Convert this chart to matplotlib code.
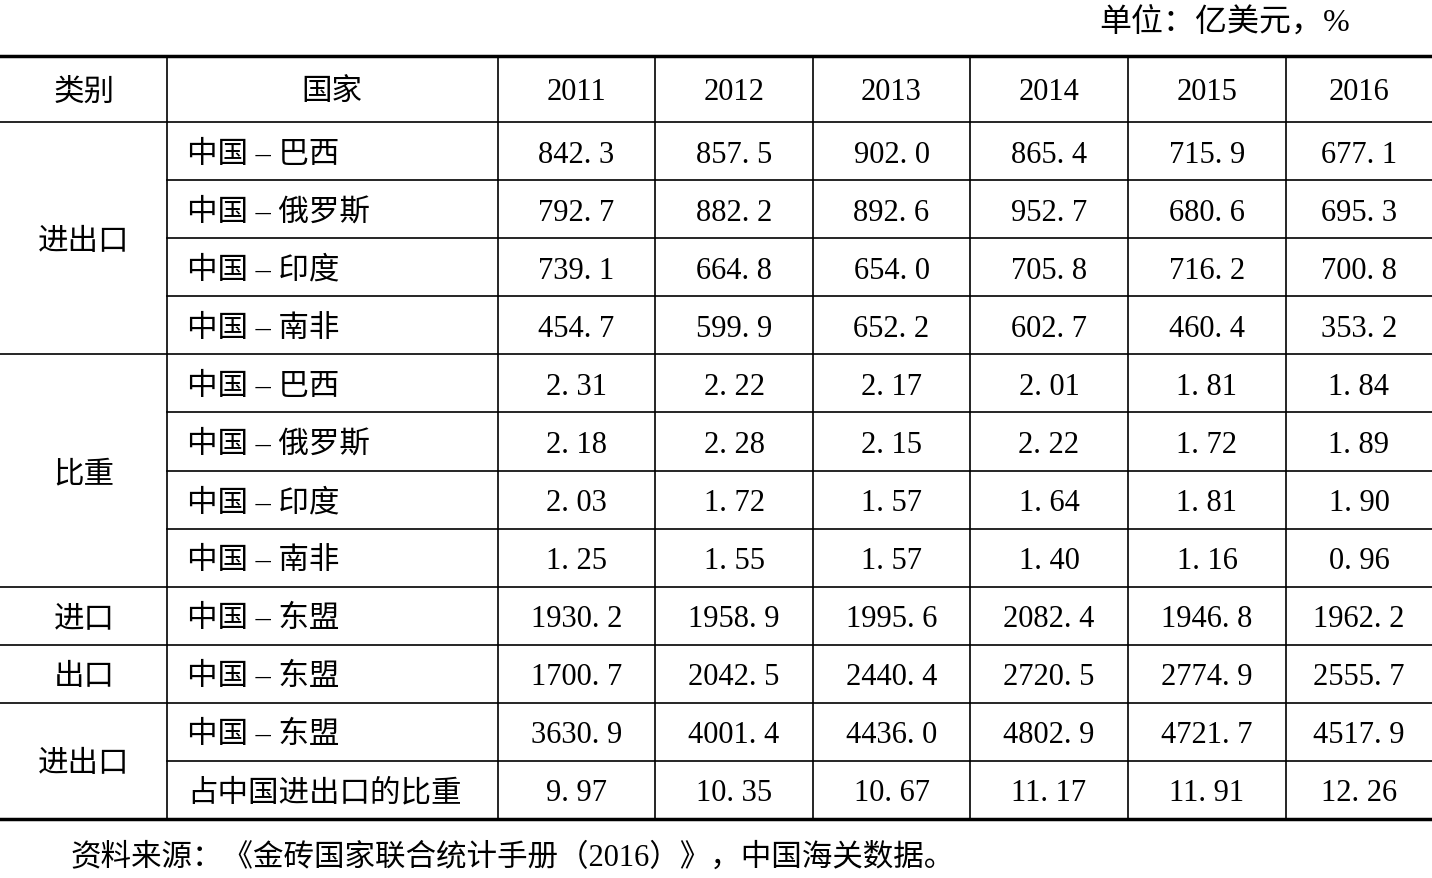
import matplotlib
matplotlib.use("Agg")
import matplotlib.pyplot as plt

years = ["2011", "2012", "2013", "2014", "2015", "2016"]
countries = ["中国 – 巴西", "中国 – 俄罗斯", "中国 – 印度", "中国 – 南非",
             "中国 – 巴西", "中国 – 俄罗斯", "中国 – 印度", "中国 – 南非",
             "中国 – 东盟", "中国 – 东盟", "中国 – 东盟", "占中国进出口的比重"]
trade = [["842. 3", "857. 5", "902. 0", "865. 4", "715. 9", "677. 1"],
         ["792. 7", "882. 2", "892. 6", "952. 7", "680. 6", "695. 3"],
         ["739. 1", "664. 8", "654. 0", "705. 8", "716. 2", "700. 8"],
         ["454. 7", "599. 9", "652. 2", "602. 7", "460. 4", "353. 2"]]
share = [["2. 31", "2. 22", "2. 17", "2. 01", "1. 81", "1. 84"],
         ["2. 18", "2. 28", "2. 15", "2. 22", "1. 72", "1. 89"],
         ["2. 03", "1. 72", "1. 57", "1. 64", "1. 81", "1. 90"],
         ["1. 25", "1. 55", "1. 57", "1. 40", "1. 16", "0. 96"]]
asean = [["1930. 2", "1958. 9", "1995. 6", "2082. 4", "1946. 8", "1962. 2"],
         ["1700. 7", "2042. 5", "2440. 4", "2720. 5", "2774. 9", "2555. 7"],
         ["3630. 9", "4001. 4", "4436. 0", "4802. 9", "4721. 7", "4517. 9"],
         ["9. 97", "10. 35", "10. 67", "11. 17", "11. 91", "12. 26"]]
groups = [("进出口", 0, 4), ("比重", 4, 8), ("进口", 8, 9), ("出口", 9, 10), ("进出口", 10, 12)]

rows = trade + share + asean
FAM = ["Liberation Serif", "Noto Sans CJK SC"]
fig = plt.figure(figsize=(14.32, 8.79), dpi=100)
ax = fig.add_axes([0, 0, 1, 1])
ax.set_xlim(0, 1432); ax.set_ylim(879, 0); ax.axis("off")

xb = [0, 167, 498, 655, 813, 970, 1128, 1286, 1432]
ytop, yhead = 57, 123
rh = (820 - yhead) / 12
yl = [yhead + i * rh for i in range(13)]
fs = 22
dy = 3

ax.text(1350, 22, "单位：亿美元，%", ha="right", va="center", fontsize=23, family=FAM)
ax.plot([0, 1432], [ytop, ytop], color="black", lw=2.5)
ax.plot([0, 1432], [yhead, yhead], color="black", lw=1.2)
ax.plot([0, 1432], [820, 820], color="black", lw=2.5)
for x in xb[1:-1]:
    ax.plot([x, x], [ytop, 820], color="black", lw=1.2)
bounds = {g[1] for g in groups} | {g[2] for g in groups}
for i in range(1, 12):
    x0 = 0 if i in bounds else 167
    ax.plot([x0, 1432], [yl[i], yl[i]], color="black", lw=1.2)

hy = (ytop + yhead) / 2 + dy
ax.text(84, hy, "类别", ha="center", va="center", fontsize=fs, family=FAM)
ax.text(332, hy, "国家", ha="center", va="center", fontsize=fs, family=FAM)
for j, y in enumerate(years):
    ax.text((xb[j + 2] + xb[j + 3]) / 2, hy, y, ha="center", va="center", fontsize=fs, family=FAM)

for name, a, b in groups:
    ax.text(84, (yl[a] + yl[b]) / 2 + dy, name, ha="center", va="center", fontsize=fs, family=FAM)
for i, c in enumerate(countries):
    yc = (yl[i] + yl[i + 1]) / 2 + dy
    ax.text(187, yc, c, ha="left", va="center", fontsize=fs, family=FAM)
    for j, v in enumerate(rows[i]):
        ax.text((xb[j + 2] + xb[j + 3]) / 2, yc, v, ha="center", va="center", fontsize=fs, family=FAM)

ax.text(70, 858, "资料来源：《金砖国家联合统计手册（2016）》，中国海关数据。", ha="left", va="center",
        fontsize=fs, family=FAM)
fig.savefig("out.png", dpi=100)
